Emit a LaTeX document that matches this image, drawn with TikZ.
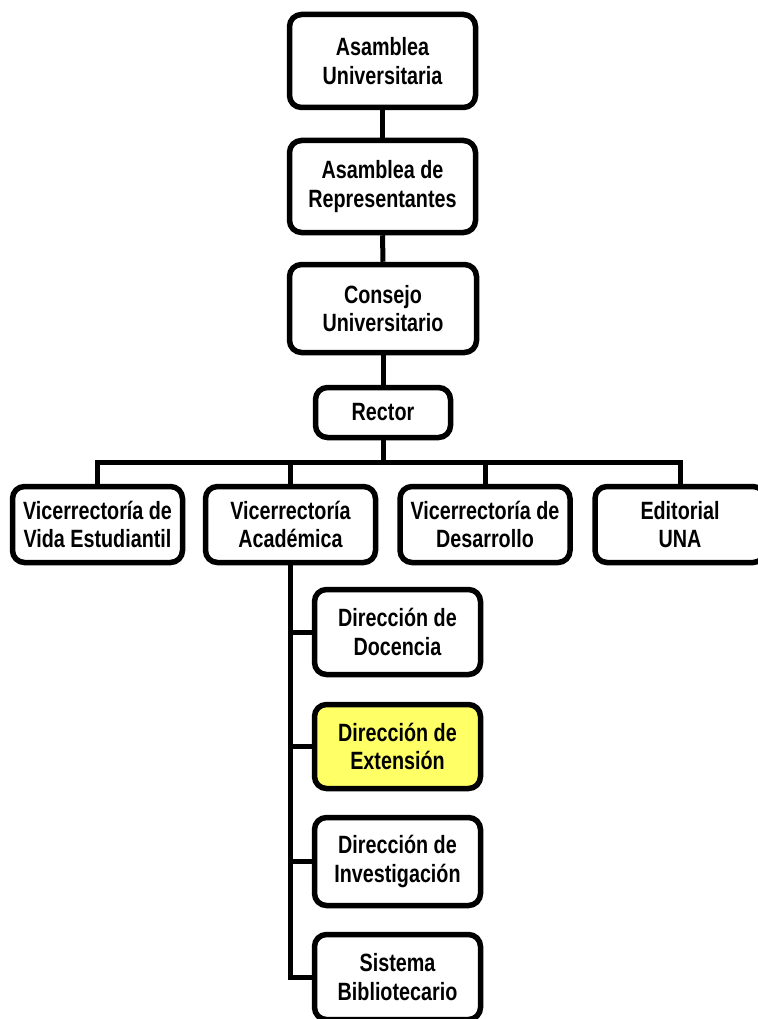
\documentclass[tikz,border=0pt]{standalone}
\usepackage{fontspec}
\setmainfont{Liberation Sans}[FakeStretch=0.79]
\definecolor{hl}{HTML}{FFFF66}
\begin{document}
\begin{tikzpicture}[x=1pt,y=-1pt,
  box/.style={draw=black,line width=5.5pt,rounded corners=12pt,fill=white,
    align=center,inner sep=0pt,
    font=\fontsize{25}{28.5}\selectfont\bfseries},
  wire/.style={draw=black,line width=5pt}]
\useasboundingbox[fill=white] (0,0) rectangle (757,1019);
\node[box,minimum width=186pt,minimum height=93pt] (au) at (382.5,61) {Asamblea\\Universitaria};
\node[box,minimum width=186pt,minimum height=92pt] (ar) at (382.5,186.5) {Asamblea de\\Representantes};
\node[box,minimum width=187pt,minimum height=88pt] (cu) at (383,308.5) {Consejo\\Universitario};
\node[box,minimum width=135pt,minimum height=50pt] (re) at (383,412.5) {Rector};
\node[box,minimum width=170pt,minimum height=76pt] (vve) at (97.5,524.5) {Vicerrectoría de\\Vida Estudiantil};
\node[box,minimum width=170pt,minimum height=76pt] (va) at (290.5,524.5) {Vicerrectoría\\Académica};
\node[box,minimum width=170pt,minimum height=76pt] (vd) at (485,524.5) {Vicerrectoría de\\Desarrollo};
\node[box,minimum width=170pt,minimum height=76pt] (ed) at (680,524.5) {Editorial\\UNA};
\node[box,minimum width=166pt,minimum height=85pt] (doc) at (397.5,632) {Dirección de\\Docencia};
\node[box,fill=hl,minimum width=166pt,minimum height=84pt] (ext) at (397.5,746.5) {Dirección de\\Extensión};
\node[box,minimum width=166pt,minimum height=88pt] (inv) at (397.5,861.5) {Dirección de\\Investigación};
\node[box,minimum width=166pt,minimum height=85pt] (sis) at (397.5,977) {Sistema\\Bibliotecario};
\coordinate (bus) at (383,462);
\draw[wire] (au.south) -- (ar.north);
\draw[wire] (ar.south) -- (cu.north);
\draw[wire] (cu.south) -- (re.north);
\draw[wire] (re.south) -- (bus);
\draw[wire] (vve.north) -- (vve.north |- bus) -- (ed.north |- bus) -- (ed.north);
\draw[wire] (va.north |- bus) -- (va.north);
\draw[wire] (vd.north |- bus) -- (vd.north);
\draw[wire,line join=miter] (va.south) -- (va.south |- sis.west) -- (sis.west);
\draw[wire] (va.south |- doc.west) -- (doc.west);
\draw[wire] (va.south |- ext.west) -- (ext.west);
\draw[wire] (va.south |- inv.west) -- (inv.west);
\end{tikzpicture}
\end{document}
